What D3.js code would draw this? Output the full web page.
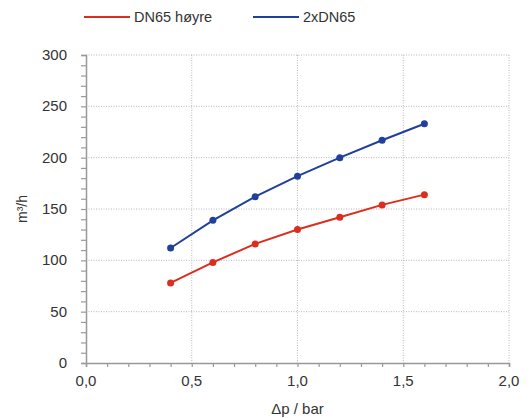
<!DOCTYPE html>
<html>
<head>
<meta charset="utf-8">
<script src="https://cdn.jsdelivr.net/npm/d3@7/dist/d3.min.js"></script>
<style>
	body { margin: 0; background: #fff; }
	svg { font-family: "Liberation Sans", Arial, sans-serif; }
</style>
</head>
<body>
<svg id="chart" width="531" height="418"></svg>
<script>
// data
const pressure = [0.4, 0.6, 0.8, 1.0, 1.2, 1.4, 1.6];
const dn65Hoyre = [78, 98, 116, 130, 142, 154, 164];
const dn65Double = [112, 139, 162, 182, 200, 217, 233];
const seriesNames = ['DN65 høyre', '2xDN65'];
const seriesColors = ['#dc2d1e', '#213f9c'];
const xTicks = [0, 0.5, 1.0, 1.5, 2.0];
const yTicks = [0, 50, 100, 150, 200, 250, 300];

const svg = d3.select('#chart');

const plotLeft = 86, plotRight = 509, plotTop = 55, plotBottom = 363;

const x = d3.scaleLinear().domain([0, 2]).range([plotLeft, plotRight]);
const y = d3.scaleLinear().domain([0, 300]).range([plotBottom, plotTop]);

const grid = '#b8b8b8', axisCol = '#999';

// grid lines
svg.append('g').selectAll('line')
	.data(yTicks.filter(d => d > 0))
	.enter().append('line')
	.attr('x1', plotLeft).attr('x2', plotRight)
	.attr('y1', d => y(d)).attr('y2', d => y(d))
	.attr('stroke', grid).attr('stroke-dasharray', '1,1.5');

svg.append('g').selectAll('line')
	.data(xTicks.filter(d => d > 0))
	.enter().append('line')
	.attr('x1', d => x(d)).attr('x2', d => x(d))
	.attr('y1', plotTop).attr('y2', plotBottom)
	.attr('stroke', grid).attr('stroke-dasharray', '1,1.5');

// axes
const fmt = d3.format('.1f');
const xAxis = d3.axisBottom(x)
	.tickValues(d3.range(0, 2.001, 0.1))
	.tickSize(4)
	.tickFormat(d => '');
const yAxis = d3.axisLeft(y)
	.tickValues(d3.range(0, 301, 10))
	.tickSize(5)
	.tickFormat(d => '');

const gx = svg.append('g').attr('transform', `translate(0,${plotBottom})`).call(xAxis);
const gy = svg.append('g').attr('transform', `translate(${plotLeft},0)`).call(yAxis);
[gx, gy].forEach(g => {
	g.select('.domain').attr('stroke', axisCol).attr('stroke-width', 1.5);
	g.selectAll('.tick line').attr('stroke', axisCol).attr('stroke-width', 1.2);
});

// tick labels
svg.append('g').selectAll('text')
	.data(xTicks)
	.enter().append('text')
	.attr('x', d => x(d)).attr('y', 386)
	.attr('text-anchor', 'middle')
	.attr('font-size', 15).attr('fill', '#333')
	.text(d => fmt(d).replace('.', ','));

svg.append('g').selectAll('text')
	.data(yTicks)
	.enter().append('text')
	.attr('x', 67).attr('y', d => y(d) + 5)
	.attr('text-anchor', 'end')
	.attr('font-size', 15).attr('fill', '#333')
	.text(d => d);

// axis titles
svg.append('text')
	.attr('x', (plotLeft + plotRight) / 2).attr('y', 414)
	.attr('text-anchor', 'middle')
	.attr('font-size', 15).attr('fill', '#333')
	.text('Δp / bar');

svg.append('text')
	.attr('transform', `translate(27,${(plotTop + plotBottom) / 2}) rotate(-90)`)
	.attr('text-anchor', 'middle')
	.attr('font-size', 14).attr('fill', '#333')
	.text('m³/h');

// series
const line = d3.line().x(d => x(d[0])).y(d => y(d[1]));
[dn65Hoyre, dn65Double].forEach((vals, i) => {
	const pts = pressure.map((p, j) => [p, vals[j]]);
	svg.append('path')
		.datum(pts)
		.attr('d', line)
		.attr('fill', 'none')
		.attr('stroke', seriesColors[i])
		.attr('stroke-width', 2);
	svg.append('g').selectAll('circle')
		.data(pts)
		.enter().append('circle')
		.attr('cx', d => x(d[0])).attr('cy', d => y(d[1]))
		.attr('r', 3.5)
		.attr('fill', seriesColors[i]);
});

// legend
const legendX = [84, 253];
seriesNames.forEach((name, i) => {
	const g = svg.append('g').attr('transform', `translate(${legendX[i]},17)`);
	g.append('line').attr('x1', 0).attr('x2', 46)
		.attr('stroke', seriesColors[i]).attr('stroke-width', 2);
	g.append('text').attr('x', 50).attr('y', 5)
		.attr('font-size', 14.5).attr('fill', '#333')
		.text(name);
});
</script>
</body>
</html>
